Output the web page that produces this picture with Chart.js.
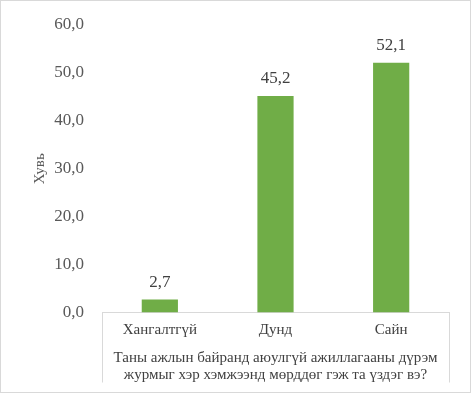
<!DOCTYPE html>
<html>
<head>
<meta charset="utf-8">
<script src="https://cdn.jsdelivr.net/npm/chart.js@4.4.0/dist/chart.umd.min.js"></script>
<style>
    html, body { margin: 0; padding: 0; background: #fff; }
    #wrap { position: relative; width: 469px; height: 391px; border: 1px solid #d9d9d9; }
</style>
</head>
<body>
<div id="wrap"><canvas id="chart"></canvas></div>
<script>
// Datos del gráfico
const categories = ['Хангалтгүй', 'Дунд', 'Сайн'];
const values = [2.7, 45.2, 52.1];
const yMin = 0;
const yMax = 60;
const yStep = 10;
const yTitle = 'Хувь';
const xTitle = ['Таны ажлын байранд аюулгүй ажиллагааны дүрэм', 'журмыг хэр хэмжээнд мөрддөг гэж та үздэг вэ?'];

const FONT = '"Liberation Serif", serif';
const fmt = v => Number(v).toFixed(1).replace('.', ',');

// Etiquetas de valor sobre las barras
const valueLabels = {
    id: 'valueLabels',
    afterDatasetsDraw(chart) {
        const ctx = chart.ctx;
        const meta = chart.getDatasetMeta(0);
        ctx.save();
        ctx.font = '17px ' + FONT;
        ctx.fillStyle = '#404040';
        ctx.textAlign = 'center';
        ctx.textBaseline = 'bottom';
        meta.data.forEach((bar, i) => {
            ctx.fillText(fmt(chart.data.datasets[0].data[i]), bar.x, bar.y - 9);
        });
        ctx.restore();
    }
};

// Caja del eje de categorías (estilo Excel)
const axisBox = {
    id: 'axisBox',
    afterDraw(chart) {
        const { ctx, chartArea } = chart;
        ctx.save();
        ctx.strokeStyle = '#d9d9d9';
        ctx.lineWidth = 1;
        ctx.beginPath();
        ctx.moveTo(Math.round(chartArea.left) + 0.5, chartArea.bottom);
        ctx.lineTo(Math.round(chartArea.left) + 0.5, chartArea.bottom + 70);
        ctx.moveTo(Math.round(chartArea.right) + 0.5, chartArea.bottom);
        ctx.lineTo(Math.round(chartArea.right) + 0.5, chartArea.bottom + 70);
        ctx.stroke();
        ctx.restore();
    }
};

function drawChart() {
    new Chart(document.getElementById('chart'), {
        type: 'bar',
        data: {
            labels: categories,
            datasets: [{
                data: values,
                backgroundColor: '#70AD47',
                barPercentage: 0.313,
                categoryPercentage: 1.0
            }]
        },
        options: {
            responsive: true,
            maintainAspectRatio: false,
            animation: false,
            layout: { padding: { top: 24, right: 21, bottom: 8, left: 30 } },
            plugins: {
                legend: { display: false },
                tooltip: { enabled: false }
            },
            scales: {
                x: {
                    grid: { display: false },
                    border: { display: true, color: '#d9d9d9' },
                    ticks: { color: '#404040', font: { family: FONT, size: 15 }, padding: 1, maxRotation: 0 },
                    title: {
                        display: true,
                        text: xTitle,
                        color: '#404040',
                        font: { family: FONT, size: 15, lineHeight: 1.15 },
                        padding: { top: 9, bottom: 0 }
                    }
                },
                y: {
                    min: yMin,
                    max: yMax,
                    afterFit: scale => {
                        scale.width = 71;
                        scale.paddingTop = 0;
                        scale.paddingBottom = 0;
                    },
                    grid: { display: false, drawTicks: false },
                    border: { display: false },
                    ticks: {
                        stepSize: yStep,
                        color: '#595959',
                        font: { family: FONT, size: 17 },
                        padding: 18,
                        callback: v => fmt(v)
                    },
                    title: {
                        display: true,
                        text: yTitle,
                        color: '#595959',
                        font: { family: FONT, size: 15 },
                        padding: { top: 0, bottom: 2 }
                    }
                }
            }
        },
        plugins: [valueLabels, axisBox]
    });
}

document.fonts.load('17px "Liberation Serif"').then(drawChart, drawChart);
</script>
</body>
</html>
